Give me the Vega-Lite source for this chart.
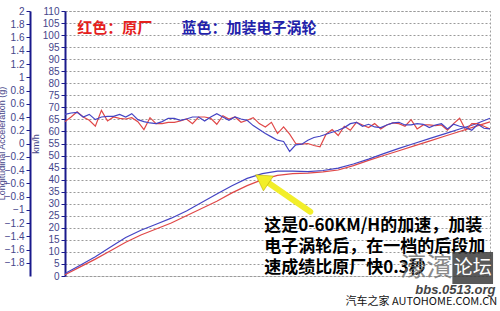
{
  "$schema": "https://vega.github.io/schema/vega-lite/v6.json",
  "width": 425,
  "height": 265,
  "autosize": "none",
  "padding": {"left": 65, "top": 11, "right": 10, "bottom": 35},
  "background": "white",
  "config": {
    "view": {"stroke": "#a0a0a0", "strokeDash": [2, 2]},
    "axis": {"labelFont": "Liberation Sans", "titleFont": "Liberation Sans"}
  },
  "datasets": {
    "accel": [
      {"t": 0.0, "red": 0.33, "blue": 0.44},
      {"t": 0.1, "red": 0.40, "blue": 0.46},
      {"t": 0.2, "red": 0.48, "blue": 0.47},
      {"t": 0.3, "red": 0.40, "blue": 0.40},
      {"t": 0.4, "red": 0.35, "blue": 0.44},
      {"t": 0.5, "red": 0.26, "blue": 0.36},
      {"t": 0.6, "red": 0.50, "blue": 0.40},
      {"t": 0.7, "red": 0.34, "blue": 0.41},
      {"t": 0.8, "red": 0.40, "blue": 0.41},
      {"t": 0.9, "red": 0.38, "blue": 0.44},
      {"t": 1.0, "red": 0.37, "blue": 0.40},
      {"t": 1.1, "red": 0.39, "blue": 0.45},
      {"t": 1.2, "red": 0.33, "blue": 0.36},
      {"t": 1.3, "red": 0.21, "blue": 0.33},
      {"t": 1.4, "red": 0.39, "blue": 0.31},
      {"t": 1.5, "red": 0.30, "blue": 0.30},
      {"t": 1.6, "red": 0.30, "blue": 0.33},
      {"t": 1.7, "red": 0.32, "blue": 0.38},
      {"t": 1.8, "red": 0.32, "blue": 0.38},
      {"t": 1.9, "red": 0.34, "blue": 0.35},
      {"t": 2.0, "red": 0.37, "blue": 0.37},
      {"t": 2.1, "red": 0.30, "blue": 0.40},
      {"t": 2.2, "red": 0.40, "blue": 0.40},
      {"t": 2.3, "red": 0.40, "blue": 0.34},
      {"t": 2.4, "red": 0.38, "blue": 0.40},
      {"t": 2.5, "red": 0.29, "blue": 0.45},
      {"t": 2.6, "red": 0.42, "blue": 0.40},
      {"t": 2.7, "red": 0.37, "blue": 0.35},
      {"t": 2.8, "red": 0.40, "blue": 0.40},
      {"t": 2.9, "red": 0.32, "blue": 0.37},
      {"t": 3.0, "red": 0.35, "blue": 0.35},
      {"t": 3.1, "red": 0.39, "blue": 0.27},
      {"t": 3.2, "red": 0.30, "blue": 0.21},
      {"t": 3.3, "red": 0.25, "blue": 0.15},
      {"t": 3.4, "red": 0.32, "blue": 0.10},
      {"t": 3.5, "red": 0.15, "blue": 0.05},
      {"t": 3.6, "red": 0.25, "blue": 0.03},
      {"t": 3.7, "red": 0.14, "blue": -0.12},
      {"t": 3.8, "red": 0.00, "blue": -0.02},
      {"t": 3.9, "red": -0.01, "blue": -0.01},
      {"t": 4.0, "red": 0.00, "blue": 0.05},
      {"t": 4.1, "red": -0.03, "blue": 0.09},
      {"t": 4.2, "red": -0.05, "blue": 0.11},
      {"t": 4.3, "red": 0.14, "blue": 0.14},
      {"t": 4.4, "red": 0.21, "blue": 0.17},
      {"t": 4.5, "red": 0.12, "blue": 0.20},
      {"t": 4.6, "red": 0.26, "blue": 0.24},
      {"t": 4.7, "red": 0.20, "blue": 0.30},
      {"t": 4.8, "red": 0.32, "blue": 0.32},
      {"t": 4.9, "red": 0.28, "blue": 0.26},
      {"t": 5.0, "red": 0.24, "blue": 0.29},
      {"t": 5.1, "red": 0.30, "blue": 0.25},
      {"t": 5.2, "red": 0.22, "blue": 0.24},
      {"t": 5.3, "red": 0.28, "blue": 0.28},
      {"t": 5.4, "red": 0.31, "blue": 0.31},
      {"t": 5.5, "red": 0.30, "blue": 0.32},
      {"t": 5.6, "red": 0.26, "blue": 0.28},
      {"t": 5.7, "red": 0.36, "blue": 0.28},
      {"t": 5.8, "red": 0.22, "blue": 0.30},
      {"t": 5.9, "red": 0.28, "blue": 0.29},
      {"t": 6.0, "red": 0.28, "blue": 0.24},
      {"t": 6.1, "red": 0.27, "blue": 0.28},
      {"t": 6.2, "red": 0.28, "blue": 0.30},
      {"t": 6.3, "red": 0.20, "blue": 0.22},
      {"t": 6.4, "red": 0.30, "blue": 0.29},
      {"t": 6.5, "red": 0.38, "blue": 0.26},
      {"t": 6.6, "red": 0.20, "blue": 0.24},
      {"t": 6.7, "red": 0.30, "blue": 0.20},
      {"t": 6.8, "red": 0.30, "blue": 0.29},
      {"t": 6.9, "red": 0.26, "blue": 0.23},
      {"t": 7.0, "red": 0.22, "blue": 0.22}
    ],
    "speed": [
      {"t": 0.0, "red": 0.5, "blue": 1.0},
      {"t": 0.25, "red": 3.8, "blue": 4.5},
      {"t": 0.5, "red": 7.0, "blue": 8.0},
      {"t": 0.75, "red": 10.5, "blue": 12.0},
      {"t": 1.0, "red": 14.0, "blue": 16.0},
      {"t": 1.25, "red": 17.0, "blue": 19.0},
      {"t": 1.5, "red": 19.5, "blue": 21.5},
      {"t": 1.75, "red": 22.0, "blue": 24.0},
      {"t": 2.0, "red": 25.0, "blue": 27.0},
      {"t": 2.25, "red": 28.0, "blue": 30.5},
      {"t": 2.5, "red": 31.0, "blue": 34.0},
      {"t": 2.75, "red": 34.5, "blue": 37.5},
      {"t": 3.0, "red": 37.5, "blue": 40.5},
      {"t": 3.25, "red": 40.0, "blue": 42.5},
      {"t": 3.5, "red": 41.8, "blue": 43.5},
      {"t": 3.75, "red": 42.5, "blue": 43.5},
      {"t": 4.0, "red": 42.7, "blue": 43.3},
      {"t": 4.25, "red": 43.2, "blue": 43.8},
      {"t": 4.5, "red": 44.0, "blue": 44.8},
      {"t": 4.75, "red": 45.8, "blue": 46.5},
      {"t": 5.0, "red": 48.0, "blue": 48.5},
      {"t": 5.25, "red": 50.0, "blue": 50.8},
      {"t": 5.5, "red": 52.0, "blue": 53.0},
      {"t": 5.75, "red": 54.0, "blue": 55.0},
      {"t": 6.0, "red": 56.0, "blue": 57.0},
      {"t": 6.25, "red": 58.0, "blue": 59.0},
      {"t": 6.5, "red": 60.0, "blue": 61.0},
      {"t": 6.75, "red": 62.0, "blue": 63.0},
      {"t": 7.0, "red": 64.0, "blue": 65.5}
    ]
  },
  "resolve": {"scale": {"y": "independent"}},
  "layer": [
    {
      "data": {"name": "speed"},
      "transform": [{"fold": ["red", "blue"], "as": ["series", "kmh"]}],
      "mark": {"type": "line", "strokeWidth": 1.2},
      "encoding": {
        "x": {
          "field": "t", "type": "quantitative",
          "scale": {"domain": [0, 7], "nice": false, "zero": false},
          "axis": {
            "values": [0, 0.5, 1, 1.5, 2, 2.5, 3, 3.5, 4, 4.5, 5, 5.5, 6, 6.5, 7],
            "format": "~g", "title": "Seconds", "titleFontWeight": "normal",
            "titleFontSize": 10, "titleColor": "#333333", "titlePadding": 2,
            "labelFontSize": 10, "labelColor": "#333333", "labelPadding": 4,
            "domainColor": "#000000", "domainWidth": 2, "tickColor": "#000000", "tickSize": 4,
            "grid": true, "gridColor": "#9a9a9a", "gridDash": [2, 2], "gridWidth": 1
          }
        },
        "y": {
          "field": "kmh", "type": "quantitative",
          "scale": {"domain": [0, 110], "nice": false},
          "axis": {
            "orient": "left", "offset": 0,
            "values": [0, 5, 10, 15, 20, 25, 30, 35, 40, 45, 50, 55, 60, 65, 70, 75, 80, 85, 90, 95, 100, 105, 110],
            "format": "d", "title": "km/h", "titleFontWeight": "normal", "titleFontSize": 9,
            "titleColor": "#45458a", "titlePadding": 2,
            "labelFontSize": 10, "labelColor": "#45458a", "labelPadding": 2,
            "domainColor": "#1a1a8c", "domainWidth": 2, "tickColor": "#1a1a8c", "tickSize": 4,
            "grid": true, "gridColor": "#9a9a9a", "gridDash": [2, 2], "gridWidth": 1
          }
        },
        "color": {
          "field": "series", "type": "nominal",
          "scale": {"domain": ["red", "blue"], "range": ["#e04848", "#4444c4"]},
          "legend": null
        }
      }
    },
    {
      "data": {"name": "accel"},
      "transform": [{"fold": ["red", "blue"], "as": ["series", "g"]}],
      "mark": {"type": "line", "strokeWidth": 1.2},
      "encoding": {
        "x": {"field": "t", "type": "quantitative", "scale": {"domain": [0, 7], "nice": false, "zero": false}, "axis": null},
        "y": {
          "field": "g", "type": "quantitative",
          "scale": {"domain": [-2, 2], "nice": false, "zero": false},
          "axis": {
            "orient": "left", "offset": 35,
            "values": [-1.8, -1.6, -1.4, -1.2, -1, -0.8, -0.6, -0.4, -0.2, 0, 0.2, 0.4, 0.6, 0.8, 1, 1.2, 1.4, 1.6, 1.8, 2],
            "format": "~g", "title": "Longitudinal Acceleration (g)", "titleFontWeight": "normal",
            "titleFontSize": 9, "titleColor": "#45458a",
            "titleX": -29, "titleY": 132, "titleBaseline": "middle", "titleAngle": 270, "titleAlign": "center",
            "labelFontSize": 10, "labelColor": "#45458a", "labelPadding": 2,
            "domainColor": "#1a1a8c", "domainWidth": 2, "tickColor": "#1a1a8c", "tickSize": 4,
            "grid": false
          }
        },
        "color": {"field": "series", "type": "nominal", "legend": null}
      }
    },
    {
      "data": {"values": [{"t0": 4.04, "v0": 26.7, "t1": 3.36, "v1": 38.5}]},
      "mark": {"type": "rule", "color": "#f2ee2a", "strokeWidth": 6, "strokeCap": "round"},
      "encoding": {
        "x": {"field": "t0", "type": "quantitative", "scale": {"domain": [0, 7], "nice": false, "zero": false}, "axis": null},
        "x2": {"field": "t1"},
        "y": {"field": "v0", "type": "quantitative", "scale": {"domain": [0, 110], "nice": false}, "axis": null},
        "y2": {"field": "v1"}
      }
    },
    {
      "data": {"values": [{"t": 3.28, "v": 39.6}]},
      "mark": {"type": "point", "shape": "triangle", "filled": true, "color": "#f2ee2a", "size": 320, "angle": 304, "opacity": 1, "stroke": "#b8a800", "strokeWidth": 0.5},
      "encoding": {
        "x": {"field": "t", "type": "quantitative", "scale": {"domain": [0, 7], "nice": false, "zero": false}, "axis": null},
        "y": {"field": "v", "type": "quantitative", "scale": {"domain": [0, 110], "nice": false}, "axis": null}
      }
    },
    {
      "data": {"values": [{"t": 0.2, "v": 103, "label": "红色：原厂"}]},
      "mark": {"type": "text", "align": "left", "baseline": "middle", "font": "Noto Sans CJK SC", "fontWeight": "bold", "fontSize": 15, "color": "#e4201c"},
      "encoding": {
        "x": {"field": "t", "type": "quantitative", "scale": {"domain": [0, 7], "nice": false, "zero": false}, "axis": null},
        "y": {"field": "v", "type": "quantitative", "scale": {"domain": [0, 110], "nice": false}, "axis": null},
        "text": {"field": "label"}
      }
    },
    {
      "data": {"values": [{"t": 1.92, "v": 103, "label": "蓝色：加装电子涡轮"}]},
      "mark": {"type": "text", "align": "left", "baseline": "middle", "font": "Noto Sans CJK SC", "fontWeight": "bold", "fontSize": 15, "color": "#2222aa"},
      "encoding": {
        "x": {"field": "t", "type": "quantitative", "scale": {"domain": [0, 7], "nice": false, "zero": false}, "axis": null},
        "y": {"field": "v", "type": "quantitative", "scale": {"domain": [0, 110], "nice": false}, "axis": null},
        "text": {"field": "label"}
      }
    },
    {
      "data": {"values": [
        {"t": 3.28, "v": 20.6, "label": "这是0-60KM/H的加速，加装"},
        {"t": 3.28, "v": 12.0, "label": "电子涡轮后，在一档的后段加"},
        {"t": 3.28, "v": 3.3, "label": "速成绩比原厂快0.3秒"}
      ]},
      "mark": {"type": "text", "align": "left", "baseline": "middle", "font": "Noto Sans CJK SC", "fontWeight": "bold", "fontSize": 17, "color": "#000000"},
      "encoding": {
        "x": {"field": "t", "type": "quantitative", "scale": {"domain": [0, 7], "nice": false, "zero": false}, "axis": null},
        "y": {"field": "v", "type": "quantitative", "scale": {"domain": [0, 110], "nice": false}, "axis": null},
        "text": {"field": "label"}
      }
    },
    {
      "data": {"values": [{"t0": 6.38, "t1": 7.05, "v0": -3.3, "v1": 10}]},
      "mark": {"type": "rect", "color": "#3c3c3c", "opacity": 0.85},
      "encoding": {
        "x": {"field": "t0", "type": "quantitative", "scale": {"domain": [0, 7], "nice": false, "zero": false}, "axis": null},
        "x2": {"field": "t1"},
        "y": {"field": "v0", "type": "quantitative", "scale": {"domain": [0, 110], "nice": false}, "axis": null},
        "y2": {"field": "v1"}
      }
    },
    {
      "data": {"values": [{"t": 5.52, "v": 3.3, "label": "濠濱"}]},
      "mark": {"type": "text", "align": "left", "baseline": "middle", "font": "Noto Sans CJK SC", "fontSize": 26, "color": "#6e6e6e", "opacity": 0.8},
      "encoding": {
        "x": {"field": "t", "type": "quantitative", "scale": {"domain": [0, 7], "nice": false, "zero": false}, "axis": null},
        "y": {"field": "v", "type": "quantitative", "scale": {"domain": [0, 110], "nice": false}, "axis": null},
        "text": {"field": "label"}
      }
    },
    {
      "data": {"values": [{"t": 6.715, "v": 3.3, "label": "论坛"}]},
      "mark": {"type": "text", "align": "center", "baseline": "middle", "font": "Noto Sans CJK SC", "fontSize": 19, "color": "#ffffff"},
      "encoding": {
        "x": {"field": "t", "type": "quantitative", "scale": {"domain": [0, 7], "nice": false, "zero": false}, "axis": null},
        "y": {"field": "v", "type": "quantitative", "scale": {"domain": [0, 110], "nice": false}, "axis": null},
        "text": {"field": "label"}
      }
    },
    {
      "data": {"values": [{"t": 5.77, "v": -5.8, "label": "bbs.0513.org"}]},
      "mark": {"type": "text", "align": "left", "baseline": "middle", "font": "Liberation Sans", "fontSize": 13, "fontWeight": "bold", "fontStyle": "italic", "color": "#444444"},
      "encoding": {
        "x": {"field": "t", "type": "quantitative", "scale": {"domain": [0, 7], "nice": false, "zero": false}, "axis": null},
        "y": {"field": "v", "type": "quantitative", "scale": {"domain": [0, 110], "nice": false}, "axis": null},
        "text": {"field": "label"}
      }
    },
    {
      "data": {"values": [{"t": 4.62, "v": -10.8, "label": "汽车之家 AUTOHOME.COM.CN"}]},
      "mark": {"type": "text", "align": "left", "baseline": "middle", "font": "Noto Sans CJK SC", "fontSize": 11, "color": "#111111"},
      "encoding": {
        "x": {"field": "t", "type": "quantitative", "scale": {"domain": [0, 7], "nice": false, "zero": false}, "axis": null},
        "y": {"field": "v", "type": "quantitative", "scale": {"domain": [0, 110], "nice": false}, "axis": null},
        "text": {"field": "label"}
      }
    }
  ]
}
